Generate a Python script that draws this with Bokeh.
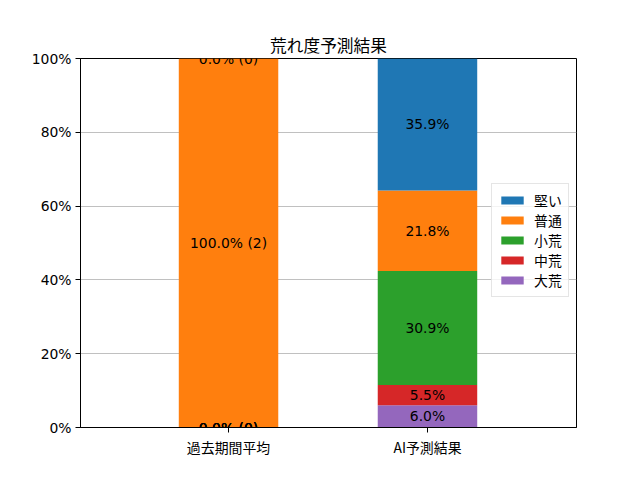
from bokeh.plotting import figure
from bokeh.models import ColumnDataSource, Range1d, FixedTicker, Legend, LegendItem
from bokeh.core.properties import value
from bokeh.embed import file_html
from bokeh.resources import INLINE

# ---- data ----
categories = ["過去期間平均", "AI予測結果"]
series = ["大荒", "中荒", "小荒", "普通", "堅い"]          # stack order, bottom -> top
colors = ["#9467bd", "#d62728", "#2ca02c", "#ff7f0e", "#1f77b4"]
past_counts = [0, 0, 0, 2, 0]
ai_pct = [6.0, 5.5, 30.9, 21.8, 35.9]
y_ticks = [0, 20, 40, 60, 80, 100]
y_tick_labels = ["0%", "20%", "40%", "60%", "80%", "100%"]

past_total = sum(past_counts)
past_pct = [c / past_total * 100 for c in past_counts]

xs = list(range(len(categories)))
data = {"x": xs}
for s, pv, av in zip(series, past_pct, ai_pct):
    data[s] = [pv, av]
src = ColumnDataSource(data)

FONT = "DejaVu Sans, Noto Sans CJK JP"

p = figure(output_backend="svg", toolbar_location=None,
           frame_width=496, frame_height=369,
           min_border_left=80, min_border_right=64,
           min_border_top=58, min_border_bottom=53,
           x_range=Range1d(-0.744, 1.749), y_range=Range1d(0, 100),
           title="荒れ度予測結果")

p.title.align = "center"
p.title.text_font = FONT
p.title.text_font_size = "16.7px"
p.title.text_font_style = "normal"
p.title.text_color = "black"
p.title.standoff = 5

rs = p.vbar_stack(series, x="x", width=0.5, source=src, color=colors, line_color=None)

# labels
lx, ly, lt = [], [], []
cum = [0.0, 0.0]
for s, pv, pc, av in zip(series, past_pct, past_counts, ai_pct):
    lx.append(0); ly.append(cum[0] + pv / 2); lt.append(f"{pv:.1f}% ({pc})")
    lx.append(1); ly.append(cum[1] + av / 2); lt.append(f"{av:.1f}%")
    cum[0] += pv; cum[1] += av
lsrc = ColumnDataSource(dict(x=lx, y=ly, t=lt))
p.text(x="x", y="y", text="t", source=lsrc, text_align="center", text_baseline="middle",
       text_font=value(FONT), text_font_size="13.9px", text_color="black")

# axes
p.xaxis.ticker = FixedTicker(ticks=xs)
p.xaxis.major_label_overrides = {i: c for i, c in zip(xs, categories)}
p.yaxis.ticker = FixedTicker(ticks=y_ticks)
p.yaxis.major_label_overrides = {t: l for t, l in zip(y_ticks, y_tick_labels)}
for ax in (p.xaxis, p.yaxis):
    ax.major_label_text_font = FONT
    ax.major_label_text_font_size = "13.9px"
    ax.major_label_text_color = "black"
    ax.axis_line_color = "black"
    ax.major_tick_line_color = "black"
    ax.major_tick_out = 5
    ax.major_tick_in = 0
    ax.minor_tick_line_color = None
    ax.major_label_standoff = 4
p.xaxis.major_label_text_font = "Noto Sans CJK JP"

p.xgrid.grid_line_color = None
p.ygrid.grid_line_color = "#b0b0b0"
p.ygrid.grid_line_width = 0.8
p.ygrid.ticker = FixedTicker(ticks=y_ticks)
p.outline_line_color = "black"
p.outline_line_alpha = 1

items = [LegendItem(label=s, renderers=[r]) for s, r in zip(series, rs)][::-1]
legend = Legend(items=items, location=(411, 130), margin=0,
                glyph_width=28, glyph_height=10, label_height=10, spacing=0,
                padding=6, label_standoff=8,
                label_text_font=FONT, label_text_font_size="13.9px",
                label_text_color="black",
                border_line_color="#cccccc", background_fill_alpha=0.8)
p.add_layout(legend)

open("out.html", "w").write(file_html(p, INLINE))
